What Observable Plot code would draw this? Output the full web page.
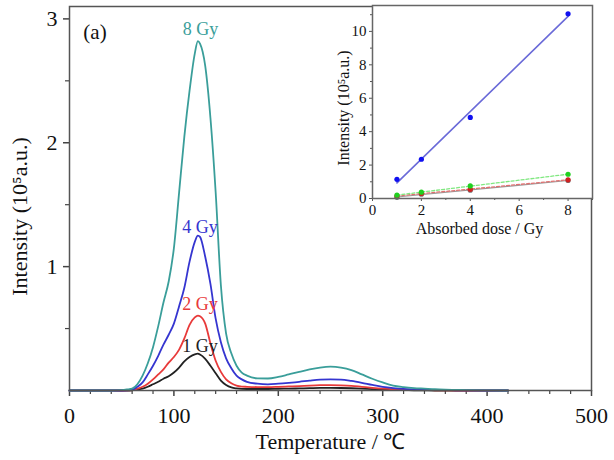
<!DOCTYPE html>
<html><head><meta charset="utf-8">
<script src="https://cdn.jsdelivr.net/npm/d3@7"></script>
<script src="https://cdn.jsdelivr.net/npm/@observablehq/plot@0.6"></script>
<style>
body{margin:0;background:#fff;}
#wrap{position:relative;width:614px;height:460px;}
#wrap svg{position:absolute;top:0;}
</style></head><body><div id="wrap"></div>
<script>
// ---- main glow curves ----
const temps = [0,20,40,50,55, 60,65,70,75,80,85,90,95, 100,105,110,115,120,123,125, 130,135,140,145,150,155,160,165,170,
  180,190,200,210,220,230,240,250,260,270,280,290,300,310,320,330,340,350,360,370,380, 400,420];
const gy8 = [0,0,0,0.003,0.008, 0.015,0.05,0.12,0.22,0.35,0.52,0.71,0.88, 1.15,1.6,2.05,2.42,2.72,2.82,2.8,
  2.62,2.2,1.6,0.85,0.46,0.3,0.2,0.145,0.12,
  0.098,0.097,0.11,0.13,0.15,0.17,0.185,0.192,0.185,0.165,0.13,0.095,0.065,0.04,0.028,0.02,0.015,0.01,0.007,0.005,0.003, 0.001,0];
const gy4 = [0,0,0,0,0.001, 0.005,0.03,0.065,0.13,0.2,0.28,0.37,0.45, 0.54,0.68,0.83,1.04,1.2,1.25,1.24,
  1.08,0.86,0.58,0.39,0.26,0.18,0.12,0.09,0.07,
  0.055,0.05,0.055,0.062,0.07,0.08,0.088,0.09,0.088,0.077,0.062,0.045,0.03,0.02,0.013,0.009,0.006,0.004,0.003,0.002,0.001, 0,0];
const gy2 = [0,0,0,0,0.001, 0.003,0.015,0.03,0.055,0.09,0.13,0.17,0.225, 0.27,0.33,0.42,0.53,0.59,0.605,0.6,
  0.54,0.38,0.24,0.15,0.09,0.058,0.04,0.032,0.03,
  0.028,0.028,0.03,0.033,0.036,0.04,0.043,0.044,0.042,0.038,0.03,0.022,0.015,0.01,0.007,0.005,0.003,0.002,0.001,0,0, 0,0];
const gy1 = [0,0,0,0,0, 0.002,0.008,0.015,0.03,0.05,0.07,0.095,0.115, 0.145,0.185,0.235,0.27,0.292,0.297,0.29,
  0.255,0.2,0.14,0.08,0.045,0.025,0.017,0.013,0.012,
  0.012,0.012,0.014,0.015,0.017,0.019,0.021,0.021,0.02,0.018,0.015,0.011,0.008,0.005,0.004,0.002,0.001,0,0,0,0, 0,0];
const doseNames = ["1 Gy","2 Gy","4 Gy","8 Gy"];
const doseColors = ["#222222","#e83a3a","#3535d0","#3a9e9a"];
const labelT = [125, 125, 125, 125.5];
const labelV = [0.36, 0.70, 1.32, 2.92];
const xTicks = [0,100,200,300,400,500];
const yTicks = [1,2,3];

// ---- inset ----
const insetDose = [1,2,4,8];
const insetBlue = [1.15,2.35,4.85,11.05];
const insetGreen = [0.2,0.38,0.75,1.45];
const insetRed = [0.15,0.3,0.55,1.12];
const insetGray = [0.07,0.26,0.5,1.08];
const insetXTicks = [0,2,4,6,8];
const insetYTicks = [0,2,4,6,8,10];

const serif = "'Liberation Serif', 'Times New Roman', serif";
const series = [gy1, gy2, gy4, gy8];
const rows = series.flatMap((s, i) => s.map((v, j) => ({t: temps[j], v, dose: doseNames[i]})));
const labs = doseNames.map((d, i) => ({d, t: labelT[i], v: labelV[i]}));

const main = Plot.plot({
  width: 614, height: 460,
  marginLeft: 69, marginRight: 23, marginTop: 6, marginBottom: 70,
  style: {fontFamily: serif, background: "white"},
  x: {domain: [0, 500]},
  y: {domain: [0, 3.1]},
  color: {domain: doseNames, range: doseColors},
  marks: [
    Plot.axisX({ticks: xTicks, tickSize: 6, tickPadding: 11, fontSize: 22, label: null, stroke: "#444", strokeWidth: 1.5, fill: "#111"}),
    Plot.axisX({ticks: d3.range(0, 501, 20).filter(d => d % 100), tickSize: 4, text: null, label: null, stroke: "#444", strokeWidth: 1.2}),
    Plot.axisY({ticks: yTicks, tickFormat: "d", tickSize: 6, tickPadding: 6, fontSize: 22, label: null, stroke: "#444", strokeWidth: 1.5, fill: "#111"}),
    Plot.axisY({ticks: [0.5, 1.5, 2.5], tickSize: 4, text: null, label: null, stroke: "#444", strokeWidth: 1.2}),
    Plot.line(rows, {x: "t", y: "v", z: "dose", stroke: "dose", strokeWidth: 1.8, curve: "monotone-x"}),
    Plot.text(labs, {x: "t", y: "v", text: "d", fill: "d", fontSize: 18}),
    Plot.text(["(a)"], {x: 24.4, y: 2.89, text: d => d, fontSize: 21, fill: "#111"}),
    Plot.text(["Temperature / ℃"], {frameAnchor: "bottom", lineAnchor: "middle", textAnchor: "middle", dy: 51, text: d => d, fontSize: 22, fill: "#111"}),
    Plot.text(["Intensity (10⁵a.u.)"], {frameAnchor: "left", textAnchor: "middle", lineAnchor: "middle", dx: -50, dy: 18, rotate: -90, text: d => d, fontSize: 22, fill: "#111"}),
    Plot.frame({stroke: "#555", strokeWidth: 1.5})
  ]
});

const pts = [
  ...insetDose.map((x, i) => ({x, y: insetGray[i], s: "gray"})),
  ...insetDose.map((x, i) => ({x, y: insetRed[i], s: "red"})),
  ...insetDose.map((x, i) => ({x, y: insetGreen[i], s: "green"})),
  ...insetDose.map((x, i) => ({x, y: insetBlue[i], s: "blue"}))
];
const ptColor = {blue: "#1010f0", green: "#20d020", red: "#d02020", gray: "#777"};
const lnColor = {blue: "#6a6ad8", green: "#80e880", red: "#e07070", gray: "#999"};
const byS = s => pts.filter(p => p.s === s);

const inset = Plot.plot({
  width: 284, height: 240,
  marginLeft: 42, marginRight: 22, marginTop: 5, marginBottom: 42,
  style: {fontFamily: serif, background: "transparent"},
  x: {domain: [0, 9]},
  y: {domain: [0, 11.55]},
  marks: [
    Plot.frame({fill: "white"}),
    Plot.axisX({ticks: insetXTicks, tickSize: 3, tickPadding: 3, fontSize: 15, label: null, stroke: "#555", fill: "#111"}),
    Plot.axisX({ticks: [1,3,5,7,9], tickSize: 2, text: null, label: null, stroke: "#555"}),
    Plot.axisY({ticks: insetYTicks, tickSize: 3, tickPadding: 3, fontSize: 15, label: null, stroke: "#555", fill: "#111"}),
    Plot.axisY({ticks: [1,3,5,7,9,11], tickSize: 2, text: null, label: null, stroke: "#555"}),
    Plot.linearRegressionY(byS("gray"), {x: "x", y: "y", ci: 0, stroke: lnColor.gray, strokeWidth: 1.2}),
    Plot.linearRegressionY(byS("red"), {x: "x", y: "y", ci: 0, stroke: lnColor.red, strokeWidth: 1.3, strokeDasharray: "3,2"}),
    Plot.linearRegressionY(byS("green"), {x: "x", y: "y", ci: 0, stroke: lnColor.green, strokeWidth: 1.3, strokeDasharray: "3,2"}),
    Plot.linearRegressionY(byS("blue"), {x: "x", y: "y", ci: 0, stroke: lnColor.blue, strokeWidth: 1.6}),
    Plot.dot(pts, {x: "x", y: "y", r: 2.6, fill: d => ptColor[d.s]}),
    Plot.text(["Absorbed dose / Gy"], {frameAnchor: "bottom", lineAnchor: "middle", textAnchor: "middle", dy: 30, dx: -3, text: d => d, fontSize: 16, fill: "#111"}),
    Plot.text(["Intensity (10⁵a.u.)"], {frameAnchor: "left", textAnchor: "middle", lineAnchor: "middle", dx: -29, dy: 6, rotate: -90, text: d => d, fontSize: 16, fill: "#111"}),
    Plot.frame({stroke: "#666", strokeWidth: 1.5})
  ]
});
inset.style.left = "330px";

const wrap = document.getElementById("wrap");
main.style.left = "0px";
wrap.appendChild(main);
wrap.appendChild(inset);
</script></body></html>
